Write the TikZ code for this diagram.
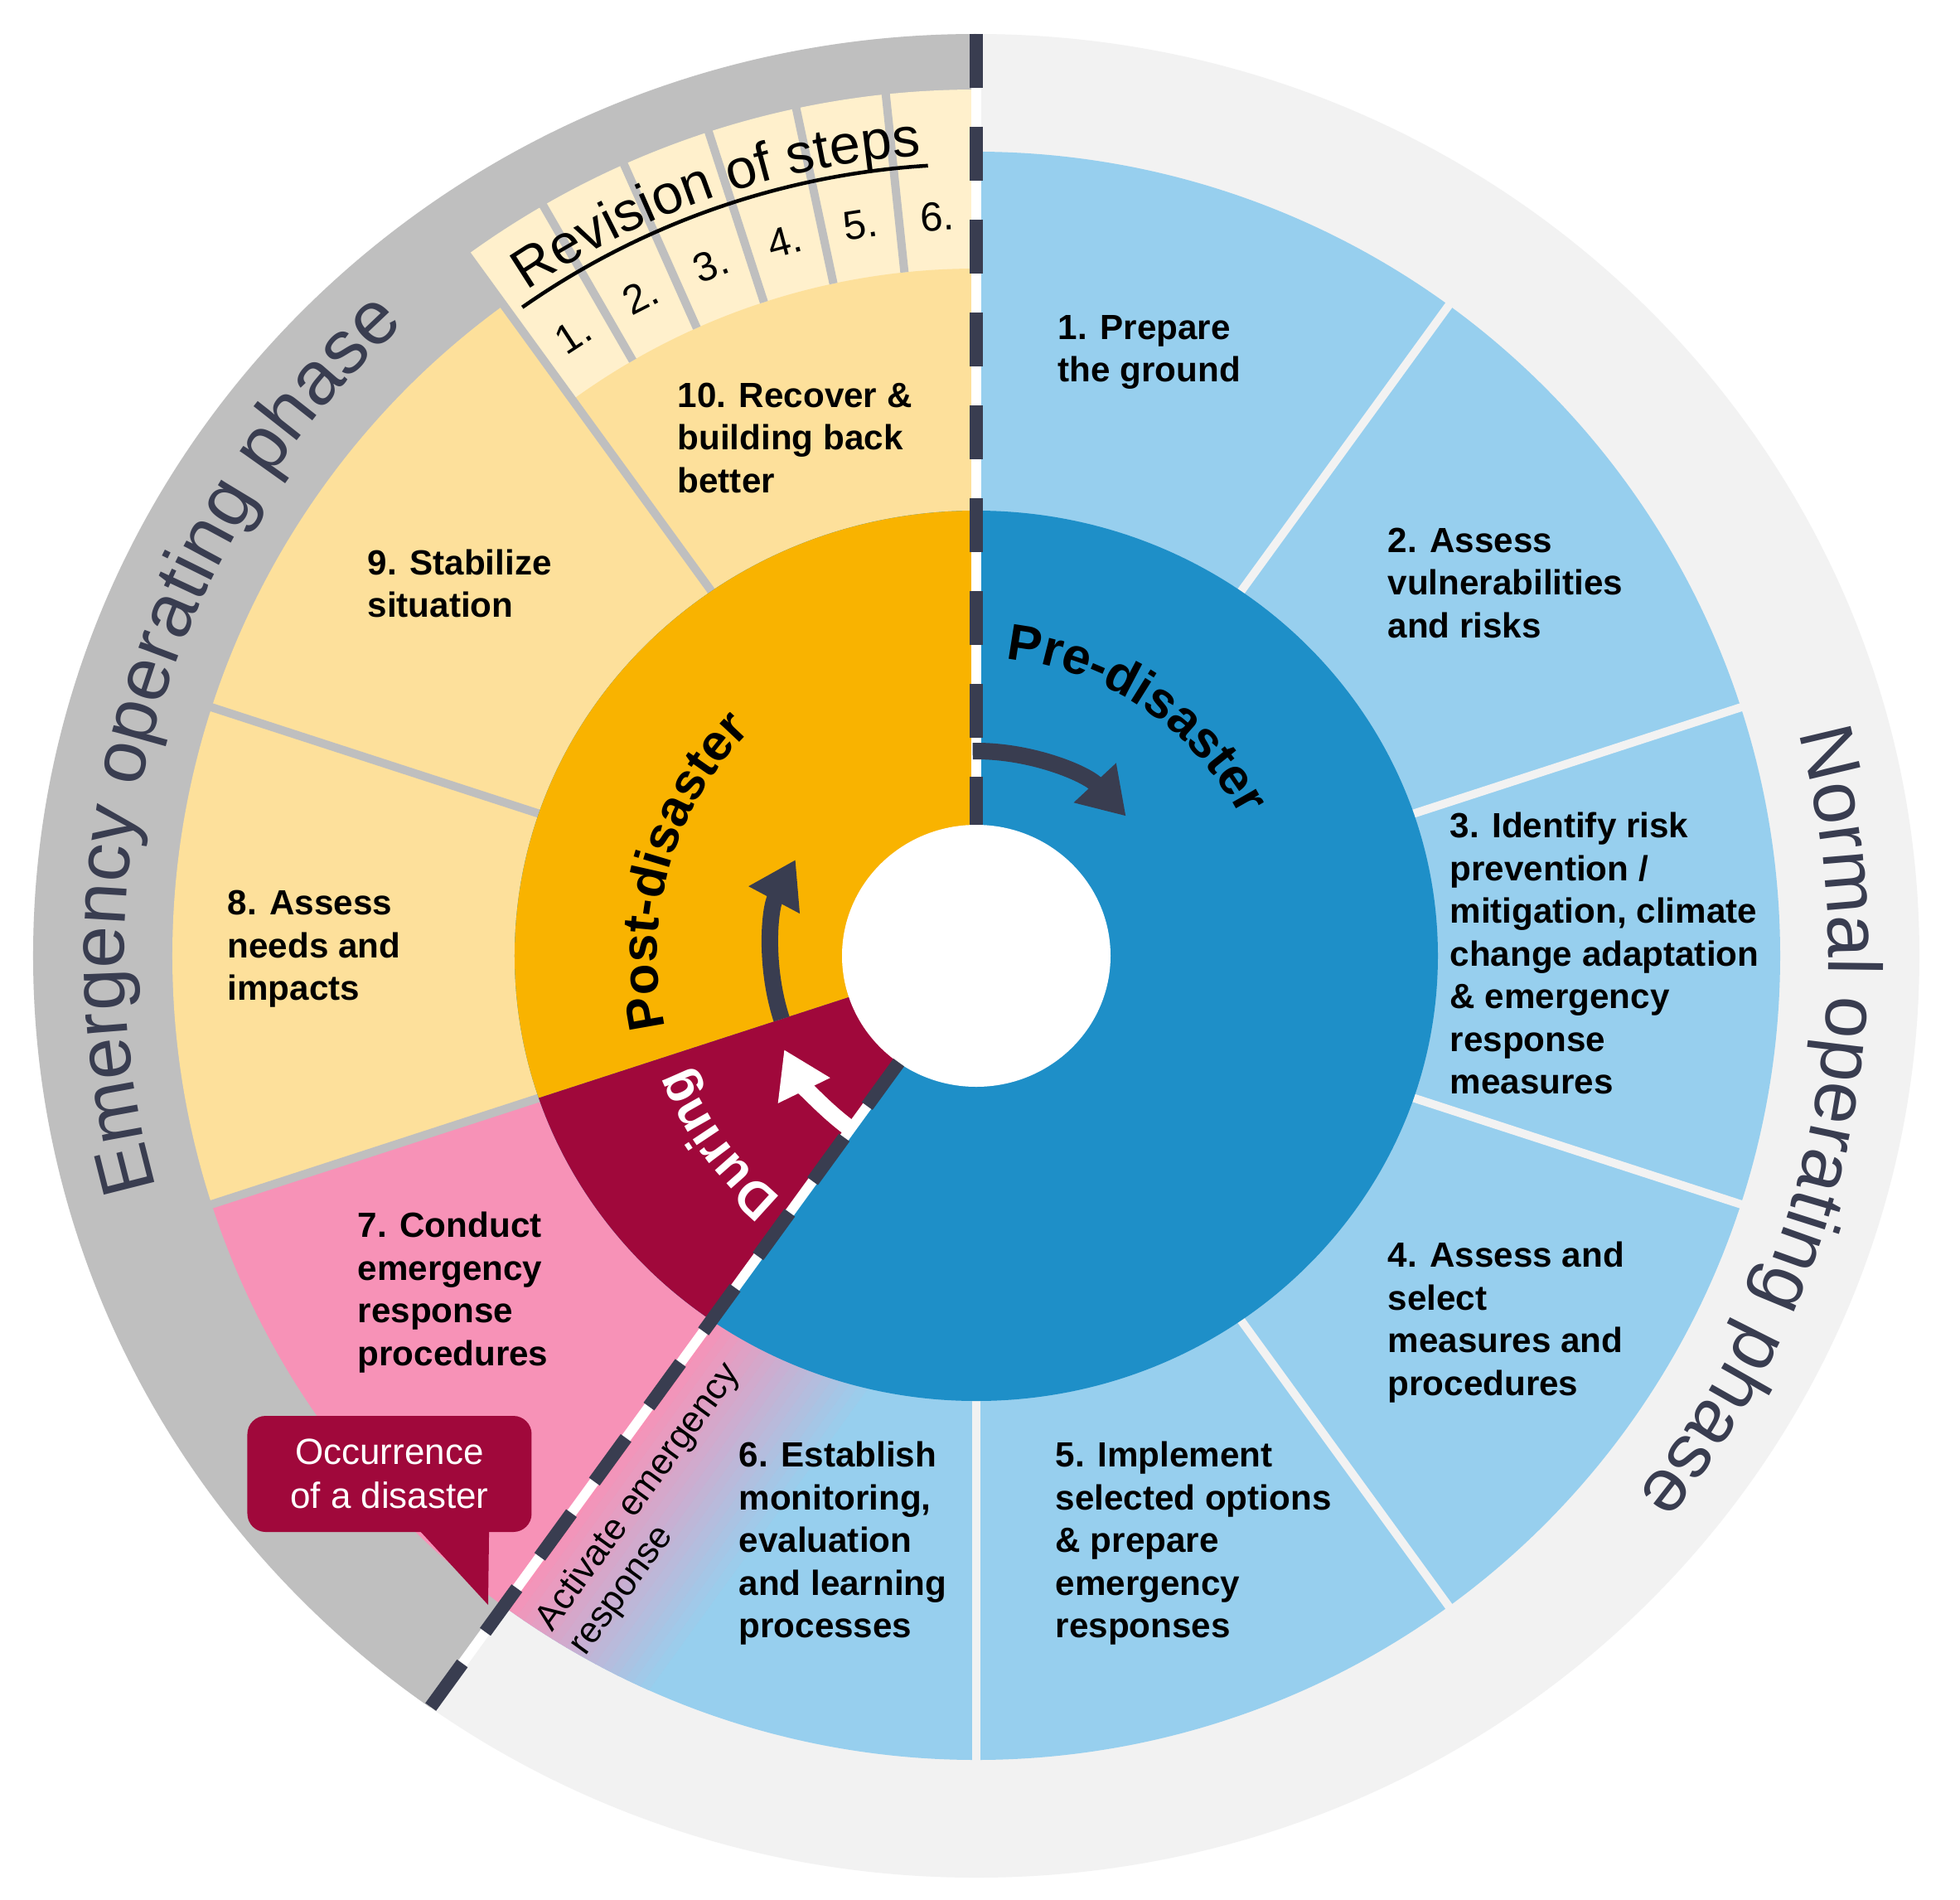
\documentclass[tikz,border=0pt]{standalone}
\usepackage{fontspec}
\setmainfont{Liberation Sans}
\usetikzlibrary{arrows.meta,decorations.text}
\definecolor{ringdark}{HTML}{BFBFBF}
\definecolor{ringlight}{HTML}{F2F2F2}
\definecolor{segblue}{HTML}{97CFEE}
\definecolor{preblue}{HTML}{1E8FC8}
\definecolor{postorange}{HTML}{F9B300}
\definecolor{segorange}{HTML}{FDE09B}
\definecolor{revcream}{HTML}{FFF0CC}
\definecolor{segpink}{HTML}{F792B7}
\definecolor{duringred}{HTML}{A0083B}
\definecolor{slate}{HTML}{393D50}
\begin{document}
\begin{tikzpicture}[line join=round,
		lbl/.style={anchor=west, align=left, inner sep=0pt, font=\fontsize{12}{14.65}\selectfont\bfseries},
		sep/.style={line width=0.1cm},
		cycarrow/.style={line width=0.2cm, -{Triangle[width=0.66cm,length=0.55cm]}},
		disktext/.style={decorate, decoration={text along path, text align=center, text={|\fontsize{17.5}{17.5}\selectfont\bfseries|#1}}},
		phasetext/.style={decorate, decoration={text along path, text align=center, text color=slate, text={|\fontsize{26}{26}\selectfont|#1}}}]
	\fill[white] (-11.78,-11.38) rectangle (11.87,11.53);
	\begin{scope}
		\clip (0,0) ellipse [x radius=11.38, y radius=11.12];
		\fill[ringlight] (-12,-12) rectangle (12,12);
		\fill[ringdark] (0,0) -- (90:14) -- (162:16) -- (234:14) -- cycle;
	\end{scope}
	\foreach \a/\c in {90/segblue,54/segblue,18/segblue,-18/segblue,-54/segblue,-90/segblue,-126/segpink,-162/segorange,162/segorange}
		\fill[\c] (0,0) -- (\a:9.7) arc[start angle=\a, end angle=\a-36, radius=9.7] -- cycle;
	\fill[revcream] (0,0) -- (126:10.45) arc[start angle=126, end angle=90, radius=10.45] -- cycle;
	\fill[segorange] (0,0) -- (126:8.29) arc[start angle=126, end angle=90, radius=8.29] -- cycle;
	\begin{scope}
		\clip (0,0) -- (234:9.7) arc[start angle=234, end angle=270, radius=9.7] -- cycle;
		\begin{scope}[rotate=-36]
			\foreach \i in {0,...,19} {
				\pgfmathtruncatemacro\p{100-5*\i}
				\fill[segpink!\p!segblue] ({0.1*\i},0.2) rectangle ({0.1*\i+0.11},-10);
			}
		\end{scope}
	\end{scope}
	\foreach \a in {54,18,-18,-54,-90}
		\draw[sep, ringlight] (0,0) -- (\a:10);
	\foreach \a in {162,198}
		\draw[sep, ringdark] (0,0) -- (\a:10);
	\draw[sep, ringdark] (0,0) -- (126:10.5);
	\foreach \a in {96,102,...,120}
		\draw[sep, ringdark] (\a:8.29) -- (\a:10.5);
	\begin{scope}
		\clip (0,0) ellipse [x radius=5.57, y radius=5.37];
		\fill[preblue] (-6,-6) rectangle (6,6);
		\fill[postorange] (0,0) -- (90:8) -- (144:9) -- (198:8) -- cycle;
		\fill[duringred] (0,0) -- (198:8) -- (234:8) -- cycle;
	\end{scope}
	\fill[white] (0,0) ellipse [x radius=1.62, y radius=1.58];
	\foreach \a/\r in {90/11.12,234/11.2} {
		\draw[white, line width=0.12cm] (\a:\r) -- (\a:1.58);
		\draw[slate, line width=0.16cm, dash pattern=on 0.65cm off 0.47cm] (\a:\r) -- (\a:1.58);
	}
	\draw[cycarrow, slate] (91:2.47) arc[start angle=91, end angle=43, radius=2.47];
	\draw[cycarrow, slate] (198:2.47) arc[start angle=198, end angle=152, radius=2.47];
	\draw[cycarrow, white] (233:2.58) arc[start angle=233, end angle=206, radius=2.58];
	\path[disktext={Pre-disaster}] (88:3.6) arc[start angle=88, end angle=24, radius=3.6];
	\path[disktext={Post-disaster}] (198:3.85) arc[start angle=198, end angle=130, radius=3.85];
	\path[disktext={During}, decoration={text color=white}] (236:3.75) arc[start angle=236, end angle=196, radius=3.75];
	\path[phasetext={Emergency operating phase}] (204:10.28) arc[start angle=204, end angle=124, radius=10.28];
	\path[phasetext={Normal operating phase}] (28:10.28) arc[start angle=28, end angle=-52, radius=10.28];
	\path[decorate, decoration={text along path, text align=center, text={|\fontsize{19}{19}\selectfont|Revision of steps}}] (126:9.68) arc[start angle=126, end angle=92, radius=9.68];
	\draw[line width=0.045cm] (125:9.55) arc[start angle=125, end angle=93.5, radius=9.55];
	\foreach \k in {1,...,6}
		\node[rotate={39-6*\k}, font=\fontsize{14}{14}\selectfont] (rev\k) at ({129-6*\k}:8.93) {\k.};
	\node[lbl] (step1) at (0.98,7.28) {1. Prepare\\the ground};
	\node[lbl] (step2) at (4.96,4.50) {2. Assess\\vulnerabilities\\and risks};
	\node[lbl] (step3) at (5.71,0.03) {3. Identify risk\\prevention /\\mitigation, climate\\change adaptation\\\& emergency\\response\\measures};
	\node[lbl] (step4) at (4.96,-4.42) {4. Assess and\\select\\measures and\\procedures};
	\node[lbl] (step5) at (0.95,-7.09) {5. Implement\\selected options\\\& prepare\\emergency\\responses};
	\node[lbl] (step6) at (-2.87,-7.09) {6. Establish\\monitoring,\\evaluation\\and learning\\processes};
	\node[lbl] (step7) at (-7.47,-4.06) {7. Conduct\\emergency\\response\\procedures};
	\node[lbl] (step8) at (-9.04,0.08) {8. Assess\\needs and\\impacts};
	\node[lbl] (step9) at (-7.35,4.49) {9. Stabilize\\situation};
	\node[lbl] (step10) at (-3.61,6.25) {10. Recover \&\\building back\\better};
	\node[rotate=54, align=left, inner sep=0pt, font=\fontsize{12.5}{14.2}\selectfont] (activate) at (-3.87,-6.68) {Activate emergency\\response};
	\node[fill=duringred, text=white, rounded corners=0.22cm, minimum width=3.43cm, minimum height=1.40cm, align=center, font=\fontsize{12.5}{15}\selectfont] (occurrence) at (-7.08,-6.25) {Occurrence\\of a disaster};
	\coordinate (occtip) at (-5.89,-7.83);
	\fill[duringred] ([xshift=-1.43cm, yshift=0.1cm]occurrence.south east) -- ([xshift=-0.52cm, yshift=0.1cm]occurrence.south east) -- (occtip) -- cycle;
\end{tikzpicture}
\end{document}
